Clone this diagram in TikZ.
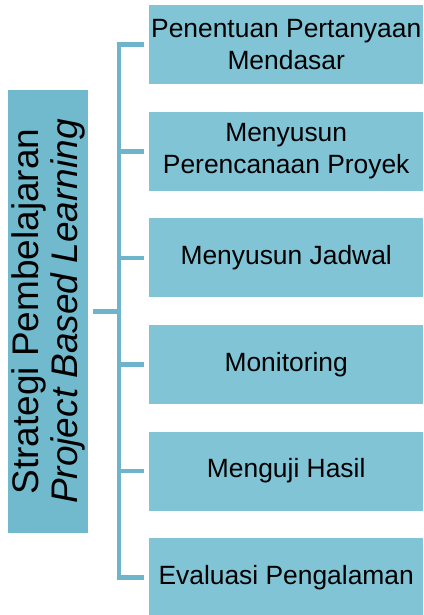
\documentclass[tikz,border=0pt]{standalone}
\usepackage{fontspec}
\setmainfont{Liberation Sans}
\definecolor{boxfill}{RGB}{128,196,214}
\definecolor{mainfill}{RGB}{113,186,206}
\definecolor{linecol}{RGB}{110,180,202}
\begin{document}
\begin{tikzpicture}[x=1pt,y=1pt,
  stepbox/.style={fill=boxfill, draw=none, anchor=north west, minimum width=274pt,
    minimum height=79pt, inner sep=0pt, align=center,
    font=\fontsize{26.4}{32}\selectfont},
  mainbox/.style={fill=mainfill, draw=none, rotate=90, minimum width=443pt,
    minimum height=80pt, inner sep=0pt, align=center,
    font=\fontsize{37}{39}\selectfont},
  conn/.style={draw=linecol, line width=4.5pt, line join=miter}]
\useasboundingbox (0,0) rectangle (423,-615);
\node[mainbox] (L) at (48,-311.5) {Strategi Pembelajaran\\\textit{Project Based Learning}};
\node[stepbox] (b1) at (149,-5) {Penentuan Pertanyaan\\Mendasar};
\node[stepbox] (b2) at (149,-111.6) {Menyusun\\Perencanaan Proyek};
\node[stepbox] (b3) at (149,-218.2) {Menyusun Jadwal};
\node[stepbox] (b4) at (149,-324.8) {Monitoring};
\node[stepbox] (b5) at (149,-431.4) {Menguji Hasil};
\node[stepbox] (b6) at (149,-538) {Evaluasi Pengalaman};
\coordinate (j) at (119,-311.5);
\draw[conn] ([xshift=5pt]L.south) -- (j);
\draw[conn] ([xshift=-5pt]b1.west) -| (j) |- ([xshift=-5pt]b6.west);
\foreach \b in {b2,b3,b4,b5}
  \draw[conn] ([xshift=-5pt]\b.west) -- (j |- \b.west);
\end{tikzpicture}
\end{document}
